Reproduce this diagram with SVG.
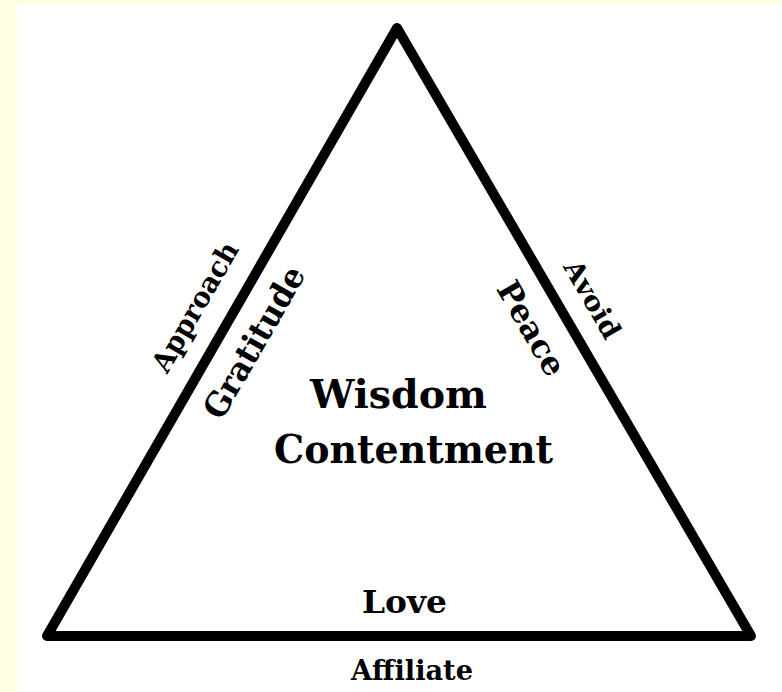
<svg xmlns="http://www.w3.org/2000/svg" width="782" height="692" viewBox="0 0 782 692">
<style>
.t{font-family:"DejaVu Serif","Liberation Serif",serif;font-weight:bold;fill:#000;text-anchor:middle}
</style>
<rect x="0" y="0" width="782" height="692" fill="#FFFFE4"/>
<rect x="17" y="4" width="765" height="688" fill="#FFFFFF"/>
<g id="connectors">
<polygon id="triangle" points="397,28 47,636 751,636" fill="none" stroke="#000" stroke-width="10" stroke-linejoin="round"/>
</g>
<g id="center">
<text class="t" x="398.5" y="408" font-size="39" textLength="177" lengthAdjust="spacingAndGlyphs">Wisdom</text>
<text class="t" x="413.5" y="463" font-size="39" textLength="279" lengthAdjust="spacingAndGlyphs">Contentment</text>
</g>
<g id="bottom">
<text class="t" x="404.5" y="613" font-size="32" textLength="85" lengthAdjust="spacingAndGlyphs">Love</text>
<text class="t" x="412" y="680" font-size="28" textLength="122" lengthAdjust="spacingAndGlyphs">Affiliate</text>
</g>
<g id="left">
<g transform="translate(197,308) rotate(-60)"><text class="t" x="0" y="7.4" font-size="28" textLength="145" lengthAdjust="spacingAndGlyphs">Approach</text></g>
<g transform="translate(253.5,342) rotate(-60)"><text class="t" x="0" y="12" font-size="33" textLength="170" lengthAdjust="spacingAndGlyphs">Gratitude</text></g>
</g>
<g id="right">
<g transform="translate(593,299) rotate(60)"><text class="t" x="0" y="10" font-size="27" textLength="86" lengthAdjust="spacingAndGlyphs">Avoid</text></g>
<g transform="translate(532,328) rotate(60)"><text class="t" x="0" y="11.7" font-size="32" textLength="104" lengthAdjust="spacingAndGlyphs">Peace</text></g>
</g>
</svg>
